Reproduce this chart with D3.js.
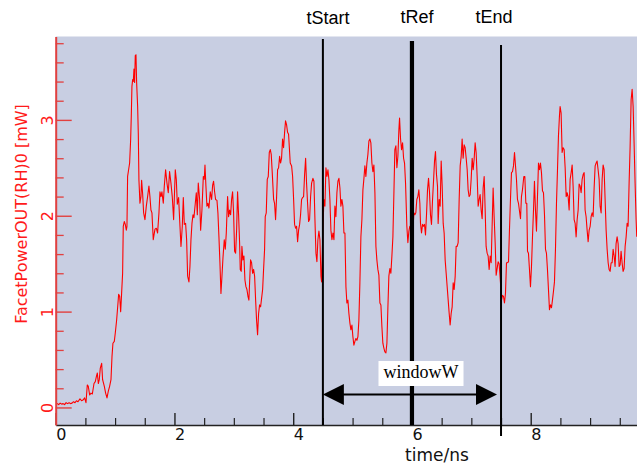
<!DOCTYPE html>
<html>
<head>
<meta charset="utf-8">
<script src="https://cdn.jsdelivr.net/npm/d3@7"></script>
<style>
  body { margin: 0; background: #ffffff; }
  svg { display: block; }
</style>
</head>
<body>
<svg id="chart" width="637" height="465"></svg>
<script>
// Facet output power (mW) against simulation time (ns)
const powerTrace = [
  [0.000,0.03],[0.025,0.04],[0.050,0.03],[0.075,0.045],[0.100,0.035],[0.125,0.04],[0.150,0.03],[0.175,0.05],
  [0.200,0.04],[0.225,0.05],[0.250,0.04],[0.275,0.045],[0.300,0.06],[0.325,0.05],[0.350,0.07],[0.375,0.06],
  [0.409,0.09],[0.437,0.07],[0.465,0.08],[0.487,0.10],[0.510,0.05],[0.532,0.235],[0.549,0.22],[0.572,0.13],
  [0.594,0.15],[0.617,0.14],[0.645,0.25],[0.667,0.27],[0.684,0.32],[0.701,0.36],[0.718,0.25],[0.734,0.29],
  [0.751,0.41],[0.774,0.46],[0.790,0.29],[0.819,0.22],[0.841,0.15],[0.864,0.10],[0.886,0.17],[0.908,0.22],
  [0.931,0.29],[0.948,0.53],[0.964,0.67],[0.987,0.69],[1.004,0.78],[1.026,0.91],[1.049,1.09],[1.060,1.18],
  [1.077,1.16],[1.094,1.00],[1.110,1.19],[1.127,1.40],[1.138,1.89],[1.155,1.94],[1.172,1.91],[1.189,1.85],
  [1.200,1.89],[1.211,2.41],[1.228,2.48],[1.245,2.55],[1.262,2.79],[1.273,3.04],[1.284,3.35],[1.296,3.42],
  [1.307,3.40],[1.318,3.53],[1.329,3.39],[1.340,3.67],[1.352,3.68],[1.363,3.39],[1.380,3.14],[1.391,2.86],
  [1.402,2.37],[1.419,2.13],[1.436,2.20],[1.447,2.37],[1.464,2.23],[1.481,2.03],[1.503,1.96],[1.526,2.10],
  [1.548,2.20],[1.570,2.31],[1.587,2.20],[1.604,2.06],[1.621,2.03],[1.643,1.75],[1.672,1.86],[1.694,1.87],
  [1.716,1.82],[1.739,2.03],[1.756,2.25],[1.773,2.20],[1.789,2.25],[1.812,2.13],[1.829,2.31],[1.851,2.48],
  [1.874,2.34],[1.896,2.24],[1.918,2.46],[1.941,2.34],[1.963,2.20],[1.986,1.96],[2.014,2.48],[2.031,2.38],
  [2.048,2.12],[2.070,2.19],[2.093,1.89],[2.110,1.68],[2.132,1.89],[2.149,2.19],[2.166,1.91],[2.188,1.92],
  [2.205,1.75],[2.222,1.37],[2.244,1.31],[2.261,1.47],[2.278,1.75],[2.295,1.92],[2.312,2.01],[2.328,1.98],
  [2.351,2.13],[2.368,2.24],[2.385,2.01],[2.401,2.34],[2.424,2.17],[2.441,1.85],[2.463,2.06],[2.486,2.41],
  [2.502,2.38],[2.514,2.53],[2.530,2.31],[2.547,2.10],[2.564,2.13],[2.581,2.08],[2.603,2.25],[2.626,2.17],
  [2.643,2.32],[2.659,2.36],[2.676,2.25],[2.693,2.17],[2.716,2.16],[2.732,2.03],[2.749,1.78],[2.766,1.51],
  [2.783,1.19],[2.800,1.37],[2.817,1.56],[2.839,1.75],[2.856,1.65],[2.873,1.82],[2.895,2.20],[2.912,1.99],
  [2.929,2.06],[2.946,2.01],[2.962,2.17],[2.979,2.25],[2.996,2.03],[3.013,1.63],[3.030,1.61],[3.047,1.85],
  [3.063,2.25],[3.080,2.01],[3.097,1.72],[3.108,1.44],[3.125,1.42],[3.136,1.68],[3.153,1.54],[3.170,1.58],
  [3.187,1.33],[3.204,1.26],[3.221,1.23],[3.238,1.16],[3.254,1.12],[3.266,1.31],[3.282,1.54],[3.299,1.51],
  [3.316,1.40],[3.333,1.44],[3.350,1.37],[3.367,1.12],[3.383,0.91],[3.400,0.76],[3.417,0.98],[3.434,1.07],
  [3.451,1.05],[3.468,1.14],[3.485,1.23],[3.501,1.44],[3.518,1.65],[3.529,1.99],[3.546,2.03],[3.563,2.38],
  [3.580,2.41],[3.597,2.66],[3.614,2.69],[3.630,2.64],[3.647,2.45],[3.670,2.17],[3.686,2.13],[3.703,1.96],
  [3.720,2.19],[3.737,2.48],[3.754,2.50],[3.771,2.62],[3.787,2.55],[3.804,2.60],[3.821,2.80],[3.838,2.71],
  [3.855,2.87],[3.871,2.99],[3.888,2.95],[3.905,2.87],[3.922,2.85],[3.950,2.55],[3.973,2.52],[3.990,2.41],
  [4.007,2.17],[4.023,1.91],[4.040,1.87],[4.057,1.89],[4.074,1.73],[4.091,1.85],[4.108,1.91],[4.124,2.01],
  [4.141,2.17],[4.158,2.19],[4.175,2.20],[4.192,2.43],[4.209,2.60],[4.225,2.34],[4.242,2.13],[4.259,1.94],
  [4.276,1.96],[4.293,2.20],[4.310,2.34],[4.332,2.39],[4.349,2.36],[4.366,1.96],[4.383,1.61],[4.399,1.52],
  [4.416,1.75],[4.433,1.84],[4.450,1.75],[4.467,1.37],[4.478,1.31],[4.500,1.85],[4.517,2.17],[4.534,2.10],
  [4.551,2.50],[4.568,2.41],[4.585,2.48],[4.601,2.38],[4.618,2.17],[4.635,1.85],[4.652,1.75],[4.669,1.82],
  [4.686,1.75],[4.702,2.10],[4.719,1.99],[4.736,2.24],[4.753,2.36],[4.770,2.39],[4.787,2.29],[4.803,2.10],
  [4.820,2.17],[4.837,2.10],[4.854,1.82],[4.871,1.82],[4.888,1.26],[4.904,1.09],[4.921,1.12],[4.938,0.98],
  [4.955,0.88],[4.972,0.81],[4.989,0.86],[5.005,0.74],[5.022,0.65],[5.039,0.69],[5.056,0.72],[5.073,0.70],
  [5.090,0.74],[5.106,0.91],[5.123,1.30],[5.140,1.78],[5.157,1.96],[5.174,2.27],[5.191,2.39],[5.207,2.52],
  [5.224,2.41],[5.241,2.55],[5.258,2.64],[5.275,2.78],[5.292,2.80],[5.308,2.76],[5.325,2.55],[5.342,2.46],
  [5.359,2.53],[5.376,2.24],[5.393,1.68],[5.409,1.54],[5.426,1.44],[5.443,1.38],[5.460,1.09],[5.477,1.07],
  [5.494,0.84],[5.510,0.67],[5.527,0.62],[5.544,0.58],[5.561,0.57],[5.578,0.67],[5.595,1.05],[5.611,1.37],
  [5.628,1.45],[5.645,1.40],[5.662,1.58],[5.679,1.78],[5.696,2.24],[5.712,2.69],[5.729,2.73],[5.746,2.50],
  [5.763,2.62],[5.780,2.90],[5.791,3.02],[5.808,2.80],[5.825,2.69],[5.842,2.76],[5.859,2.60],[5.875,2.55],
  [5.892,2.34],[5.914,1.89],[5.931,1.72],[5.948,1.84],[5.964,1.89],[5.981,1.86],[5.998,1.85],[6.015,1.82],
  [6.032,2.03],[6.049,2.01],[6.065,2.03],[6.082,2.17],[6.099,2.20],[6.116,2.27],[6.133,2.13],[6.144,1.92],
  [6.161,1.82],[6.178,1.91],[6.194,1.89],[6.211,1.91],[6.228,1.80],[6.245,2.01],[6.262,2.27],[6.279,2.39],
  [6.295,2.25],[6.312,2.01],[6.329,1.91],[6.346,2.16],[6.363,2.36],[6.380,2.57],[6.396,2.67],[6.413,2.43],
  [6.430,2.31],[6.441,1.92],[6.458,2.17],[6.475,2.10],[6.492,2.57],[6.509,2.31],[6.526,1.92],[6.542,1.82],
  [6.559,1.54],[6.576,1.40],[6.593,1.26],[6.610,1.12],[6.627,0.98],[6.643,0.86],[6.660,0.98],[6.677,1.05],
  [6.694,1.30],[6.711,1.23],[6.728,1.37],[6.744,1.68],[6.761,1.68],[6.778,1.72],[6.795,2.17],[6.812,2.52],
  [6.829,2.62],[6.845,2.80],[6.862,2.60],[6.879,2.74],[6.896,2.71],[6.913,2.60],[6.930,2.48],[6.946,2.27],
  [6.963,2.20],[6.980,2.22],[6.997,2.38],[7.014,2.60],[7.031,2.48],[7.047,2.59],[7.064,2.76],[7.081,2.66],
  [7.098,2.41],[7.115,2.10],[7.132,2.17],[7.148,2.22],[7.165,2.06],[7.182,1.97],[7.199,2.29],[7.216,2.41],
  [7.233,2.06],[7.249,1.68],[7.266,1.61],[7.283,1.58],[7.300,1.44],[7.317,1.58],[7.334,1.51],[7.350,1.89],
  [7.367,2.29],[7.384,1.99],[7.401,1.72],[7.418,1.38],[7.435,1.45],[7.451,1.52],[7.468,1.50],[7.491,1.30],
  [7.508,1.12],[7.525,1.17],[7.541,1.16],[7.558,1.09],[7.575,1.19],[7.592,1.51],[7.609,1.51],[7.626,1.52],
  [7.642,1.85],[7.659,2.17],[7.676,2.45],[7.693,2.46],[7.710,2.52],[7.727,2.66],[7.743,2.53],[7.760,2.38],
  [7.777,2.17],[7.794,2.13],[7.811,2.05],[7.828,1.97],[7.844,2.20],[7.861,2.27],[7.884,2.41],[7.901,2.41],
  [7.918,2.13],[7.934,2.13],[7.946,1.63],[7.962,1.61],[7.979,1.44],[7.996,1.26],[8.013,1.47],[8.030,1.78],
  [8.047,2.06],[8.063,2.36],[8.080,2.06],[8.097,1.84],[8.114,2.20],[8.131,2.55],[8.148,2.48],[8.164,2.55],
  [8.181,2.45],[8.198,2.26],[8.215,2.24],[8.232,2.01],[8.249,1.65],[8.265,1.61],[8.282,1.44],[8.299,1.23],
  [8.316,1.02],[8.333,1.07],[8.350,1.04],[8.366,1.12],[8.383,1.21],[8.400,1.31],[8.417,1.65],[8.434,2.13],
  [8.451,2.48],[8.467,2.83],[8.484,3.04],[8.495,3.14],[8.512,3.07],[8.529,2.66],[8.546,2.71],[8.563,2.69],
  [8.580,2.50],[8.597,2.20],[8.613,2.24],[8.630,2.20],[8.647,2.06],[8.664,2.38],[8.681,2.45],[8.698,2.53],
  [8.714,2.31],[8.731,1.96],[8.748,1.92],[8.765,1.78],[8.782,1.96],[8.799,2.06],[8.815,2.33],[8.832,2.31],
  [8.849,2.24],[8.866,2.38],[8.883,2.43],[8.900,2.45],[8.916,2.06],[8.933,1.99],[8.950,1.85],[8.967,1.73],
  [8.984,1.85],[9.001,1.89],[9.017,1.99],[9.034,2.03],[9.051,1.99],[9.068,2.29],[9.085,2.52],[9.102,2.55],
  [9.118,2.57],[9.135,2.48],[9.152,2.38],[9.169,2.10],[9.186,2.03],[9.203,2.38],[9.219,2.53],[9.236,2.48],
  [9.253,2.17],[9.270,1.85],[9.287,1.65],[9.304,1.51],[9.320,1.44],[9.337,1.42],[9.354,1.51],[9.371,1.51],
  [9.388,1.65],[9.405,1.58],[9.421,1.47],[9.438,1.71],[9.455,1.78],[9.472,1.71],[9.489,1.47],[9.506,1.49],
  [9.522,1.63],[9.539,1.51],[9.556,1.42],[9.573,1.45],[9.590,1.68],[9.607,1.78],[9.623,1.92],[9.640,1.89],
  [9.657,2.34],[9.674,2.72],[9.691,3.21],[9.708,3.32],[9.725,3.14],[9.741,2.76],[9.758,2.34],[9.775,1.96],
  [9.786,1.78]
];

const xTickValues = [0, 2, 4, 6, 8];
const yTickValues = [0, 1, 2, 3];
const markerNames = ["tStart", "tRef", "tEnd"];
const markerTimes = [4.5, 6.0, 7.5];
const windowLabel = "windowW";
const xTitle = "time/ns";
const yTitle = "FacetPowerOUT(RH)0 [mW]";

// ---- layout ----
const plot = { left: 55.7, right: 637, top: 36.5, bottom: 425 };
const red = "#ff1a1a";
const axisRed = "#e2403f";
const sans = "'DejaVu Sans', sans-serif";

const svg = d3.select("#chart");

const x = d3.scaleLinear().domain([0, 9.79]).range([plot.left, plot.right]);
const y = d3.scaleLinear().domain([-0.183, 3.87]).range([plot.bottom, plot.top]);

// plot background
svg.append("rect")
  .attr("x", plot.left).attr("y", plot.top)
  .attr("width", plot.right - plot.left).attr("height", plot.bottom - plot.top)
  .attr("fill", "#c8cee2");

svg.append("clipPath").attr("id", "plotClip")
  .append("rect")
  .attr("x", plot.left).attr("y", plot.top)
  .attr("width", plot.right - plot.left).attr("height", plot.bottom - plot.top);

// power trace
const line = d3.line().x(d => x(d[0])).y(d => y(d[1]));
svg.append("path")
  .datum(powerTrace)
  .attr("clip-path", "url(#plotClip)")
  .attr("d", line)
  .attr("fill", "none")
  .attr("stroke", "#ff0000")
  .attr("stroke-width", 1.1)
  .attr("stroke-linejoin", "round");

// x axis: minor ticks every 0.5 ns, major with labels every 2 ns
const xMinor = d3.range(0, 9.8, 0.5).filter(v => v % 2 !== 0);
const xMinorAxis = svg.append("g")
  .attr("transform", `translate(0,${plot.bottom})`)
  .call(d3.axisBottom(x).tickValues(xMinor).tickSize(-7).tickFormat(""));
xMinorAxis.select(".domain").remove();
xMinorAxis.selectAll("line").attr("stroke", "#222").attr("stroke-width", 1.2);

const xAxis = svg.append("g")
  .attr("transform", `translate(0,${plot.bottom})`)
  .call(d3.axisBottom(x).tickValues(xTickValues).tickSizeInner(-12).tickSizeOuter(0)
    .tickPadding(4).tickFormat(d3.format("d")));
xAxis.select(".domain").attr("stroke", "#222").attr("stroke-width", 1.6);
xAxis.selectAll("line").attr("stroke", "#222").attr("stroke-width", 1.4);
xAxis.selectAll("text")
  .attr("text-anchor", "start")
  .attr("fill", "#111")
  .style("font-family", sans).style("font-size", "16px");

svg.append("text")
  .attr("x", 437).attr("y", 460.5)
  .attr("text-anchor", "middle")
  .attr("fill", "#111")
  .style("font-family", sans).style("font-size", "17px")
  .text(xTitle);

// y axis (red): minor ticks every 0.2 mW, rotated labels
const yMinor = d3.range(0, 3.85, 0.2).filter(v => Math.abs(v - Math.round(v)) > 1e-6);
const yMinorAxis = svg.append("g")
  .attr("transform", `translate(${plot.left},0)`)
  .call(d3.axisLeft(y).tickValues(yMinor).tickSize(-8).tickFormat(""));
yMinorAxis.select(".domain").remove();
yMinorAxis.selectAll("line").attr("stroke", axisRed).attr("stroke-width", 1.3);

const yAxis = svg.append("g")
  .attr("transform", `translate(${plot.left},0)`)
  .call(d3.axisLeft(y).tickValues(yTickValues).tickSizeInner(-16).tickSizeOuter(0)
    .tickFormat(d3.format("d")));
yAxis.select(".domain").attr("stroke", axisRed).attr("stroke-width", 2);
yAxis.selectAll("line").attr("stroke", axisRed).attr("stroke-width", 1.4);
yAxis.selectAll("text")
  .attr("x", null).attr("dy", null)
  .attr("text-anchor", "middle")
  .attr("transform", "translate(-3,0) rotate(-90)")
  .attr("fill", red)
  .style("font-family", sans).style("font-size", "16px");

svg.append("text")
  .attr("transform", "translate(27,214) rotate(-90)")
  .attr("text-anchor", "middle")
  .attr("fill", red)
  .style("font-family", sans).style("font-size", "16px")
  .text(yTitle);

// time markers
const markerLook = {
  tStart: { width: 2,   top: 39, bottom: 425, labelDx: 5,  labelY: 24 },
  tRef:   { width: 4.2, top: 41, bottom: 425, labelDx: 5,  labelY: 23 },
  tEnd:   { width: 2,   top: 45, bottom: 436, labelDx: -7, labelY: 23 }
};
markerNames.forEach((name, i) => {
  const mx = x(markerTimes[i]);
  const look = markerLook[name];
  svg.append("line")
    .attr("x1", mx).attr("x2", mx)
    .attr("y1", look.top).attr("y2", look.bottom)
    .attr("stroke", "#000").attr("stroke-width", look.width);
  svg.append("text")
    .attr("x", mx + look.labelDx).attr("y", look.labelY)
    .attr("text-anchor", "middle")
    .attr("fill", "#000")
    .style("font-family", "'Liberation Sans', Arial, sans-serif")
    .style("font-size", "18px")
    .text(name);
});

// window width arrow between tStart and tEnd
const ay = 394.5;
const ax1 = x(markerTimes[0]);
const ax2 = x(markerTimes[2]) - 4;
const head = 21, half = 10.5;
svg.append("line")
  .attr("x1", ax1 + 4).attr("x2", ax2 - 4)
  .attr("y1", ay).attr("y2", ay)
  .attr("stroke", "#000").attr("stroke-width", 2.2);
svg.append("path")
  .attr("d", `M${ax1},${ay} L${ax1 + head},${ay - half} L${ax1 + head},${ay + half} Z`)
  .attr("fill", "#000");
svg.append("path")
  .attr("d", `M${ax2},${ay} L${ax2 - head},${ay - half} L${ax2 - head},${ay + half} Z`)
  .attr("fill", "#000");

const labelG = svg.append("g");
const labelText = labelG.append("text")
  .attr("x", 421).attr("y", 378)
  .attr("text-anchor", "middle")
  .attr("fill", "#000")
  .style("font-family", "'Liberation Serif', 'Times New Roman', serif")
  .style("font-size", "18px")
  .text(windowLabel);
const bb = labelText.node().getBBox();
labelG.insert("rect", "text")
  .attr("x", bb.x - 5).attr("y", 361)
  .attr("width", bb.width + 10).attr("height", 25)
  .attr("fill", "#ffffff");
</script>
</body>
</html>
